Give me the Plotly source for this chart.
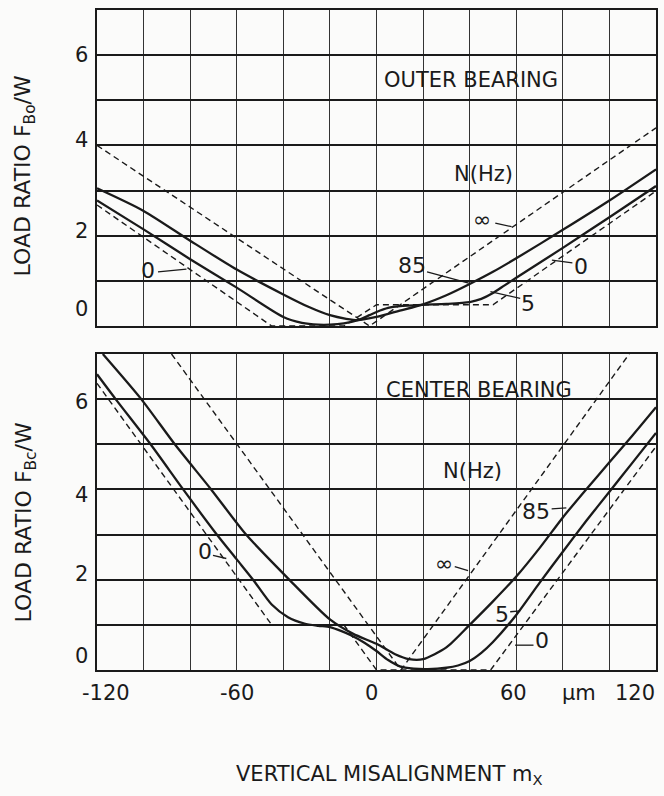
import plotly.graph_objects as go

# ---------------- data ----------------
# Outer bearing, load ratio F_Bo/W vs vertical misalignment (um)
outer_85_x = [-120, -100, -80, -60, -40, -29, -20, -13, -8, 0, 10, 20, 30, 40, 50, 60, 80, 100, 120]
outer_85_y = [3.05, 2.55, 1.89, 1.25, 0.70, 0.42, 0.24, 0.16, 0.13, 0.20, 0.34, 0.48, 0.68, 0.93, 1.20, 1.50, 2.13, 2.78, 3.47]
outer_5_x = [-120, -100, -80, -60, -40, -32, -25, -20, -14, -8, -3, 0, 5, 10, 20, 30, 40, 45, 50, 55, 60, 80, 100, 120]
outer_5_y = [2.78, 2.14, 1.48, 0.85, 0.20, 0.07, 0.03, 0.03, 0.06, 0.13, 0.24, 0.31, 0.40, 0.44, 0.47, 0.49, 0.53, 0.60, 0.73, 0.90, 1.07, 1.73, 2.41, 3.10]
outer_inf_x = [-120, -3, 120]
outer_inf_y = [4.00, 0.00, 4.39]
outer_0_x = [-120, -45, -14, 0, 50, 120]
outer_0_y = [2.68, 0.00, 0.00, 0.47, 0.47, 2.99]

# Center bearing, load ratio F_Bc/W
center_85_x = [-117.5, -101, -86.6, -71, -56, -38, -20, -10, 0, 8, 14, 20, 30, 40, 50, 60, 70, 80, 90, 100, 110, 120]
center_85_y = [7.00, 6.00, 5.00, 4.00, 3.00, 2.03, 1.12, 0.80, 0.58, 0.35, 0.24, 0.24, 0.50, 1.00, 1.52, 2.07, 2.70, 3.38, 4.00, 4.60, 5.20, 5.82]
center_5_x = [-120, -112, -97, -83, -69, -60, -53, -45, -38, -31, -25, -20, -15, -11, -5, 0, 5, 10, 16, 22, 30, 35, 40, 45, 50, 60, 70, 80, 90, 100, 110, 120]
center_5_y = [6.55, 6.00, 5.00, 4.00, 3.03, 2.45, 2.00, 1.45, 1.17, 1.03, 0.98, 0.95, 0.86, 0.77, 0.60, 0.42, 0.22, 0.08, 0.03, 0.02, 0.05, 0.10, 0.20, 0.38, 0.62, 1.22, 1.93, 2.62, 3.30, 3.95, 4.60, 5.25]
center_inf_x = [-88, 10.5, 108.5]
center_inf_y = [7.0, 0.0, 7.0]
center_0_x = [-120, -45, -14, 0, 49, 120]
center_0_y = [6.35, 1.00, 1.00, 0.00, 0.00, 4.95]

x_tick_text = ["-120", "-60", "0", "60", "µm", "120"]
y_tick_text = ["6", "4", "2", "0"]
panel_titles = ["OUTER BEARING", "CENTER BEARING"]
legend_title = "N(Hz)"
y_titles = ["LOAD RATIO F<sub>Bo</sub>/W", "LOAD RATIO F<sub>Bc</sub>/W"]
x_title = "VERTICAL MISALIGNMENT m<sub>X</sub>"

# ---------------- styling ----------------
FONT = "DejaVu Sans"
INK = "#1a1a1a"
BG = "#fbfbfa"

fig = go.Figure()

def solid(x, y, xa, ya):
    fig.add_trace(go.Scatter(x=x, y=y, mode="lines", xaxis=xa, yaxis=ya,
                             line=dict(color=INK, width=2.3, shape="spline", smoothing=0.7),
                             showlegend=False, hoverinfo="skip"))

def dashed(x, y, xa, ya):
    fig.add_trace(go.Scatter(x=x, y=y, mode="lines", xaxis=xa, yaxis=ya,
                             line=dict(color=INK, width=1.4, dash="6px,4px"),
                             showlegend=False, hoverinfo="skip"))

solid(outer_85_x, outer_85_y, "x", "y")
solid(outer_5_x, outer_5_y, "x", "y")
dashed(outer_inf_x, outer_inf_y, "x", "y")
dashed(outer_0_x, outer_0_y, "x", "y")

solid(center_85_x, center_85_y, "x2", "y2")
solid(center_5_x, center_5_y, "x2", "y2")
dashed(center_inf_x, center_inf_y, "x2", "y2")
dashed(center_0_x, center_0_y, "x2", "y2")

axis_common = dict(showline=True, linecolor=INK, linewidth=2, mirror=True,
                   zeroline=False, showticklabels=False, ticks="")
xcommon = dict(axis_common, range=[-120, 120], tick0=-120, dtick=20,
               showgrid=True, gridcolor="#333333", gridwidth=1)
ycommon = dict(axis_common, range=[0, 7], tick0=0, dtick=1,
               showgrid=True, gridcolor=INK, gridwidth=2)

top_dom = [(670 - 326) / 660, 1.0]
bot_dom = [0.0, (670 - 354) / 660]

fig.update_layout(
    width=664, height=796,
    margin=dict(l=97, r=6, t=10, b=126),
    paper_bgcolor=BG, plot_bgcolor=BG,
    font=dict(family=FONT, color=INK, size=21),
    xaxis=dict(xcommon, domain=[0, 1], anchor="y"),
    yaxis=dict(ycommon, domain=top_dom, anchor="x"),
    xaxis2=dict(xcommon, domain=[0, 1], anchor="y2"),
    yaxis2=dict(ycommon, domain=bot_dom, anchor="x2"),
)

ann = []
def text(s, x, y, xref, yref, size=21, xanchor="center", yanchor="middle", **kw):
    ann.append(dict(text=s, x=x, y=y, xref=xref, yref=yref, showarrow=False,
                    xanchor=xanchor, yanchor=yanchor,
                    font=dict(family=FONT, size=size, color=INK), **kw))

# y tick labels (placed as in the printed figure)
for yref, vals in (("y", [6.0, 4.12, 2.1, 0.38]), ("y2", [5.94, 3.87, 2.13, 0.3])):
    for t, v in zip(y_tick_text, vals):
        text(t, -0.012, v, "paper", yref, xanchor="right")

# x tick labels
for t, v in zip(x_tick_text, [-116, -60, -2, 59, 87, 111]):
    text(t, v, -0.035, "x2", "paper")

# axis titles
text(y_titles[0], -0.128, 0.7485, "paper", "paper", size=22, textangle=-90)
text(y_titles[1], -0.128, 0.2242, "paper", "paper", size=22, textangle=-90)
text(x_title, 0.524, -0.159, "paper", "paper", size=21)

# panel titles and N(Hz)
text(panel_titles[0], 40.4, 5.45, "x", "y")
text(legend_title, 46, 3.37, "x", "y")
text(panel_titles[1], 44, 6.2, "x2", "y2")
text(legend_title, 41.3, 4.4, "x2", "y2")

# curve labels with leader lines: (label, x, y, x0, y0, x1, y1, xref, yref)
curve_labels = [
    ("∞", 45.5, 2.36, 51, 2.28, 58, 2.2, "x", "y"),
    ("85", 15.3, 1.35, 21.7, 1.2, 39.6, 0.95, "x", "y"),
    ("5", 65, 0.5, 61.7, 0.61, 48.9, 0.76, "x", "y"),
    ("0", 87.8, 1.31, 84.1, 1.4, 75.3, 1.46, "x", "y"),
    ("0", -98, 1.24, -93.8, 1.2, -81.6, 1.26, "x", "y"),
    ("85", 68.3, 3.52, 75.2, 3.57, 81.5, 3.59, "x2", "y2"),
    ("∞", 28.9, 2.36, 33.6, 2.29, 39.3, 2.2, "x2", "y2"),
    ("5", 53.8, 1.22, 57.4, 1.29, 61.7, 1.31, "x2", "y2"),
    ("0", 71.2, 0.66, 67.4, 0.55, 59.5, 0.55, "x2", "y2"),
    ("0", -73.8, 2.62, -70.2, 2.54, -64.5, 2.47, "x2", "y2"),
]
shapes = []
for lab, tx, ty, x0, y0, x1, y1, xr, yr in curve_labels:
    text(lab, tx, ty, xr, yr, size=22)
    shapes.append(dict(type="line", x0=x0, y0=y0, x1=x1, y1=y1, xref=xr, yref=yr,
                       line=dict(color=INK, width=1.3)))

fig.update_layout(annotations=ann, shapes=shapes)
fig.write_html("out.html")
